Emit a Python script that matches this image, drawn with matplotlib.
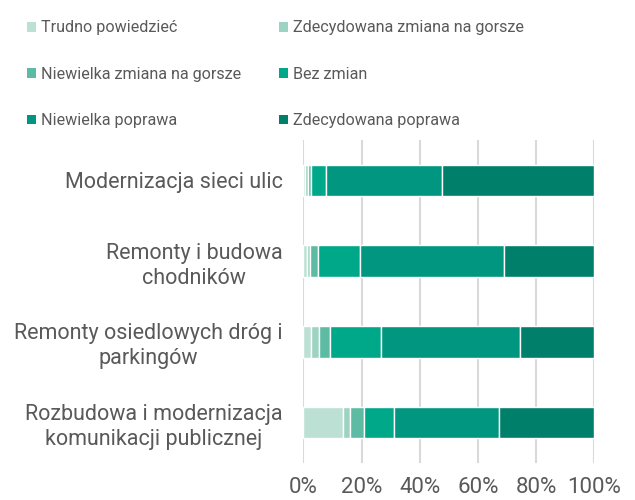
import matplotlib
matplotlib.use("Agg")
import matplotlib.pyplot as plt
from matplotlib.patches import Patch
import numpy as np

categories = [
    "Modernizacja sieci ulic",
    "Remonty i budowa\nchodników",
    "Remonty osiedlowych dróg i\nparkingów",
    "Rozbudowa i modernizacja\nkomunikacji publicznej",
]
series_names = [
    "Trudno powiedzieć",
    "Zdecydowana zmiana na gorsze",
    "Niewielka zmiana na gorsze",
    "Bez zmian",
    "Niewielka poprawa",
    "Zdecydowana poprawa",
]
trudno = [0.6, 1.2, 2.7, 13.7]
zdec_gorsze = [0.9, 1.2, 2.7, 2.2]
niew_gorsze = [1.1, 2.8, 3.8, 5.1]
bez_zmian = [5.2, 14.3, 17.6, 10.3]
niew_poprawa = [39.9, 49.5, 47.6, 35.8]
zdec_poprawa = [52.3, 31.0, 25.6, 32.9]
values = [trudno, zdec_gorsze, niew_gorsze, bez_zmian, niew_poprawa, zdec_poprawa]
colors = ["#BDE0D5", "#9DD3C2", "#5CBBA2", "#00A88A", "#009680", "#007F6A"]
ticks = [0, 20, 40, 60, 80, 100]
tick_labels = ["0%", "20%", "40%", "60%", "80%", "100%"]

text_color = "#595959"
plt.rcParams["font.family"] = ["Roboto", "DejaVu Sans"]

fig = plt.figure(figsize=(6.35, 5.0), dpi=100)
ax = fig.add_axes([0.4777, 0.074, 0.9359 - 0.4777, 0.72 - 0.074])

y = np.arange(len(categories))
left = np.zeros(len(categories))
for name, vals, c in zip(series_names, values, colors):
    vals = np.array(vals)
    ax.barh(y, vals, left=left, height=0.39, color=c, edgecolor="white",
            linewidth=1.0, label=name, zorder=3)
    left += vals

ax.set_xlim(0, 100)
ax.set_ylim(3.5, -0.5)
ax.set_xticks(ticks)
ax.set_xticklabels(tick_labels, fontsize=16, color=text_color)
ax.set_yticks(y)
ax.set_yticklabels(categories, fontsize=15.5, color=text_color,
                   multialignment="center", linespacing=1.25)
ax.tick_params(axis="both", length=0)
ax.tick_params(axis="y", pad=15)
ax.tick_params(axis="x", pad=10)
ax.grid(axis="x", color="#D9D9D9", linewidth=1.5, zorder=0)
for s in ax.spines.values():
    s.set_visible(False)

handles = [Patch(facecolor=c, edgecolor="none") for c in colors]
order = [0, 2, 4, 1, 3, 5]
leg = fig.legend([handles[i] for i in order], [series_names[i] for i in order],
                 loc="upper left", bbox_to_anchor=(0.02, 0.988), ncol=2,
                 frameon=False, handlelength=0.55, handleheight=0.55,
                 handletextpad=0.3, labelspacing=1.95, columnspacing=2.37,
                 prop={"size": 11.6})
for t in leg.get_texts():
    t.set_color(text_color)

fig.savefig("out.png", dpi=100)
